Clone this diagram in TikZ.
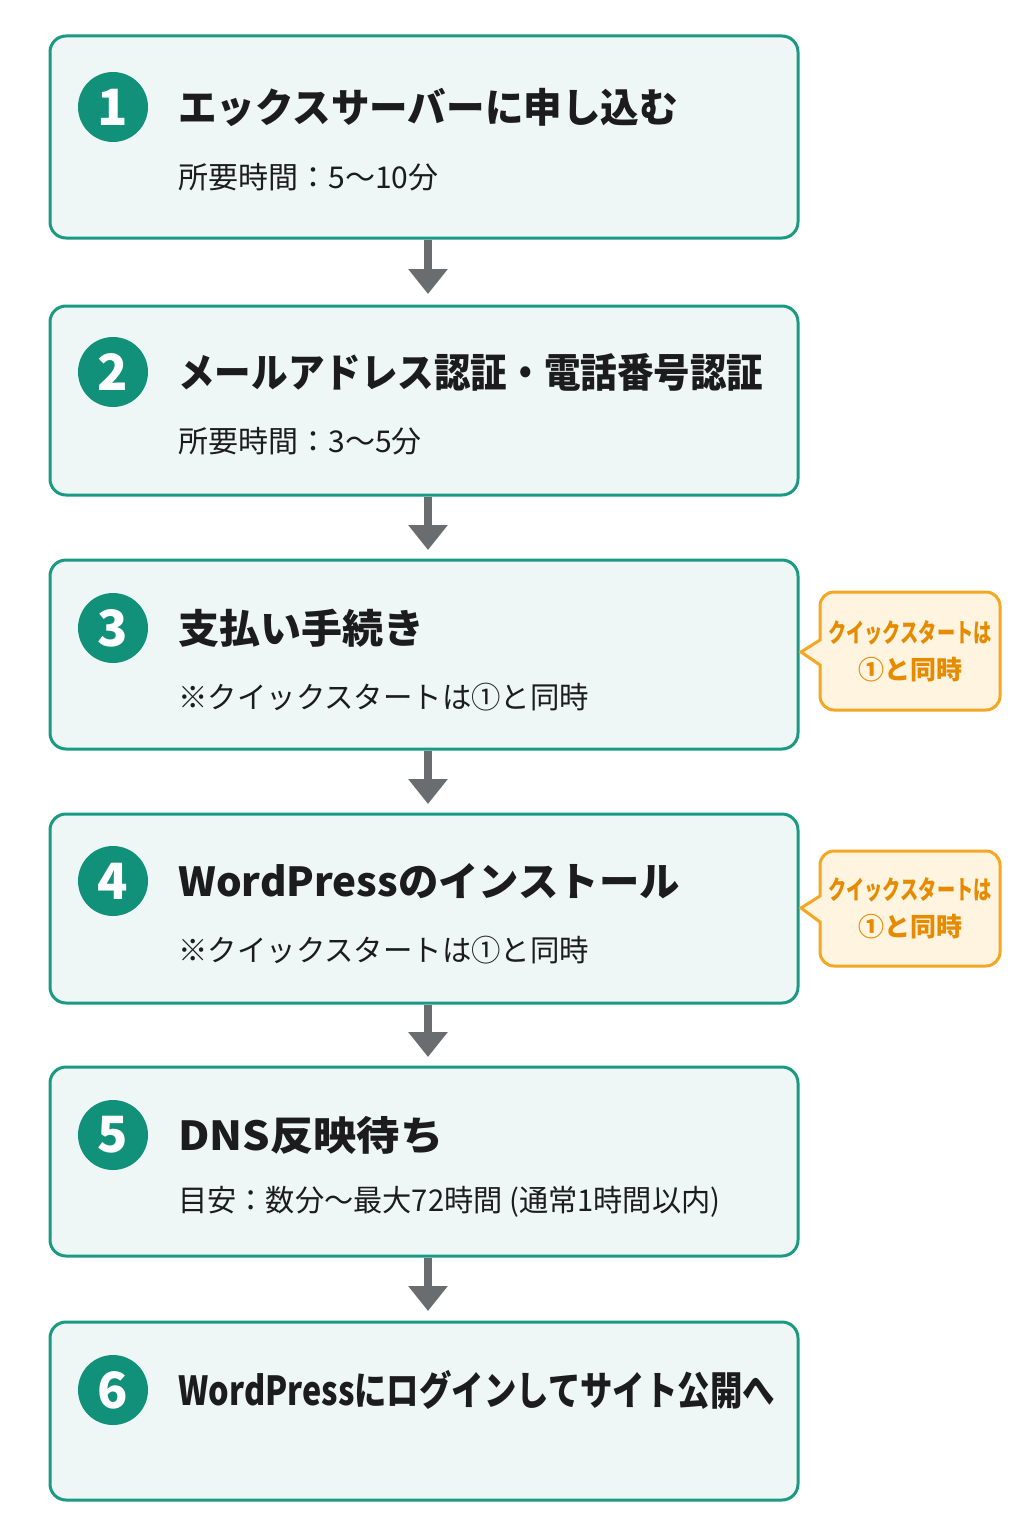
\documentclass[tikz,border=0pt]{standalone}
\usepackage{fontspec}
\setmainfont{Noto Sans CJK JP}
\usetikzlibrary{arrows.meta}
\definecolor{tealline}{HTML}{1A9A82}
\definecolor{tealfill}{HTML}{EEF7F5}
\definecolor{tealdot}{HTML}{11917A}
\definecolor{txt}{HTML}{1C1C1E}
\definecolor{arrowgray}{HTML}{6A6D70}
\definecolor{orline}{HTML}{F5A623}
\definecolor{orfill}{HTML}{FFF4DF}
\definecolor{ortext}{HTML}{E68A00}
\tikzset{
  stepbox/.style={draw=tealline, line width=1.5pt, fill=tealfill, rounded corners=8pt,
    minimum width=374pt, inner sep=0pt},
  numdot/.style={circle, fill=tealdot, minimum size=35pt, inner sep=0pt, text=white,
    font=\fontsize{25pt}{25pt}\selectfont\bfseries},
  titletext/.style={anchor=west, inner sep=0pt, text=txt, font=\fontsize{20pt}{21pt}\selectfont\bfseries},
  subtext/.style={anchor=west, inner sep=0pt, text=txt, font=\fontsize{15pt}{16pt}\selectfont},
  flow/.style={draw=arrowgray, line width=4pt, -{Triangle[width=19pt,length=12.5pt]}},
  callshape/.style={draw=orline, line width=1.5pt, fill=orfill},
  calltext/.style={inner sep=0pt, text=ortext, align=center,
    font=\fontsize{13pt}{18.5pt}\selectfont\bfseries},
}
\begin{document}
\begin{tikzpicture}[x=0.5pt, y=-0.5pt]
\useasboundingbox[fill=white] (0,0) rectangle (1024,1536);

% boxes
\node[stepbox, minimum height=101pt] (b1) at (424,137) {};
\node[stepbox, minimum height=94.5pt] (b2) at (424,400.5) {};
\node[stepbox, minimum height=94.5pt] (b3) at (424,654.5) {};
\node[stepbox, minimum height=94.5pt] (b4) at (424,908.5) {};
\node[stepbox, minimum height=94.5pt] (b5) at (424,1161.5) {};
\node[stepbox, minimum height=89pt] (b6) at (424,1411) {};

% number dots
\node[numdot] (n1) at (113,107) {1};
\node[numdot] (n2) at (113,372) {2};
\node[numdot] (n3) at (113,628) {3};
\node[numdot] (n4) at (113,881) {4};
\node[numdot] (n5) at (113,1135) {5};
\node[numdot] (n6) at (113,1390) {6};

% titles
\node[titletext] (t1) at (178,107) {\scalebox{0.963}[1]{エックスサーバーに申し込む}};
\node[titletext] (t2) at (178,372) {\scalebox{0.914}[1]{メールアドレス認証・電話番号認証}};
\node[titletext] (t3) at (178,628) {\scalebox{1.025}[1]{支払い手続き}};
\node[titletext] (t4) at (178,881) {\scalebox{1.01}[1]{WordPressのインストール}};
\node[titletext] (t5) at (178,1135) {\scalebox{1.08}[1]{DNS反映待ち}};
\node[titletext] (t6) at (178,1390) {\scalebox{0.81}[1]{WordPressにログインしてサイト公開へ}};

% subtitles
\node[subtext] (s1) at (178,177) {所要時間：5〜10分};
\node[subtext] (s2) at (178,441) {所要時間：3〜5分};
\node[subtext] (s3) at (178,697) {\scalebox{0.98}[1]{※クイックスタートは①と同時}};
\node[subtext] (s4) at (178,950) {\scalebox{0.98}[1]{※クイックスタートは①と同時}};
\node[subtext] (s5) at (178,1202) {\scalebox{0.973}[1]{目安：数分〜最大72時間 (通常1時間以内)}};

% arrows
\coordinate (e1) at (428,294);
\coordinate (e2) at (428,550);
\coordinate (e3) at (428,804);
\coordinate (e4) at (428,1057);
\coordinate (e5) at (428,1311);
\draw[flow] (b1.south -| e1) -- (e1);
\draw[flow] (b2.south -| e2) -- (e2);
\draw[flow] (b3.south -| e3) -- (e3);
\draw[flow] (b4.south -| e4) -- (e4);
\draw[flow] (b5.south -| e5) -- (e5);

% callouts
\draw[callshape] (820,665) [rounded corners=7pt] -- (820,710) -- (1000,710) -- (1000,592) -- (820,592) [sharp corners] -- (820,640) -- (801,652) -- cycle;
\node[calltext] (c1) at (910,651) {\scalebox{0.7}[1]{クイックスタートは}\\①と同時};
\draw[callshape] (820,922) [rounded corners=7pt] -- (820,966) -- (1000,966) -- (1000,851) -- (820,851) [sharp corners] -- (820,896) -- (801,908) -- cycle;
\node[calltext] (c2) at (910,908) {\scalebox{0.7}[1]{クイックスタートは}\\①と同時};
\end{tikzpicture}
\end{document}
